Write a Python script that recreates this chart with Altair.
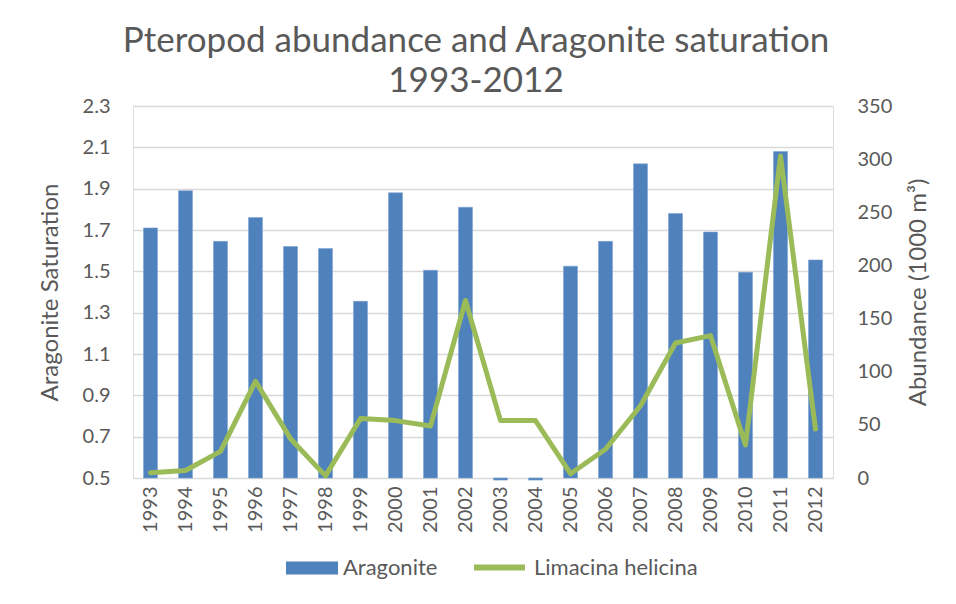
import altair as alt
import pandas as pd

years = [str(y) for y in range(1993, 2013)]
aragonite = [1.71, 1.89, 1.645, 1.76, 1.62, 1.61, 1.355, 1.88, 1.505, 1.81,
             0.49, 0.49, 1.525, 1.645, 2.02, 1.78, 1.69, 1.495, 2.08, 1.555]
abundance = [5, 7, 25, 91, 37, 2, 56, 54, 49, 167,
             54, 54, 4, 27, 68, 127, 134, 31, 303, 46]
left_ticks = [0.5, 0.7, 0.9, 1.1, 1.3, 1.5, 1.7, 1.9, 2.1, 2.3]
right_ticks = [0, 50, 100, 150, 200, 250, 300, 350]

df = pd.DataFrame({
    "year": years,
    "aragonite": aragonite,
    "abundance": abundance,
    "base": [0.5] * len(years),
    "s1": ["Aragonite"] * len(years),
    "s2": ["Limacina helicina"] * len(years),
})

GREY = "#595959"
FONT = "Lato"

x = alt.X("year:N", sort=years,
          scale=alt.Scale(paddingInner=0.6, paddingOuter=0.3),
          axis=alt.Axis(title=None, labelAngle=270, labelFontSize=20, labelColor=GREY,
                        ticks=False, domain=False, grid=False, labelPadding=8, labelFont=FONT))

bars = alt.Chart(df).mark_bar(stroke="#7EA3D2", strokeWidth=0.6).encode(
    x=x,
    y=alt.Y("aragonite:Q",
            scale=alt.Scale(domain=[0.5, 2.3], zero=False, nice=False),
            axis=alt.Axis(values=left_ticks, format=".1f", grid=True, gridColor="#D9D9D9",
                          gridWidth=1.3, ticks=False, domain=False, labelFontSize=20,
                          labelColor=GREY, labelPadding=23, labelFont=FONT,
                          title="Aragonite Saturation", titleFontSize=24,
                          titleFontWeight="normal", titleColor=GREY, titleFont=FONT,
                          titleAngle=270, titleBaseline="middle", titleAlign="center",
                          titleX=-83, titleY=186)),
    y2="base:Q",
    fill=alt.Fill("s1:N", scale=alt.Scale(domain=["Aragonite"], range=["#4F81BD"]),
                  legend=alt.Legend(orient="none", legendX=153, legendY=436, title=None,
                                    symbolType="M-1,-0.25L1,-0.25L1,0.25L-1,0.25Z",
                                    symbolSize=2704, symbolStrokeWidth=0,
                                    labelFontSize=22, labelColor=GREY, labelFont=FONT,
                                    labelOffset=5, labelLimit=400, padding=0)),
)

line = alt.Chart(df).mark_line(strokeWidth=5, strokeJoin="round", strokeCap="round").encode(
    x=x,
    y=alt.Y("abundance:Q",
            scale=alt.Scale(domain=[0, 350], nice=False),
            axis=alt.Axis(orient="right", values=right_ticks, grid=False, ticks=False,
                          domain=False, labelFontSize=20, labelColor=GREY, labelFont=FONT,
                          labelPadding=24, title="Abundance (1000 m³)", titleAngle=270,
                          titleFontSize=24, titleFontWeight="normal", titleColor=GREY,
                          titleFont=FONT, titleBaseline="middle", titleAlign="center",
                          titleX=85, titleY=186)),
    stroke=alt.Stroke("s2:N", scale=alt.Scale(domain=["Limacina helicina"], range=["#9BBB59"]),
                      legend=alt.Legend(orient="none", legendX=338, legendY=433, title=None,
                                        symbolType="stroke", symbolSize=2601,
                                        symbolStrokeWidth=6, labelFontSize=22,
                                        labelColor=GREY, labelFont=FONT, labelOffset=6,
                                        labelLimit=400, padding=0)),
)

chart = alt.layer(bars, line).resolve_scale(y="independent", fill="independent",
                                            stroke="independent").properties(
    width=700, height=372,
    autosize=alt.AutoSizeParams(type="none"),
    padding={"left": 125, "top": 98, "right": 115, "bottom": 118},
    title=alt.TitleParams(["Pteropod abundance and Aragonite saturation", "1993-2012"],
                          fontSize=35, font=FONT, fontWeight="normal", color=GREY,
                          anchor="middle", offset=0, dx=-7, dy=3, lineHeight=40),
).configure_view(stroke=None).configure(background="white")

chart.save("out.html", embed_options={"renderer": "svg", "actions": False})
